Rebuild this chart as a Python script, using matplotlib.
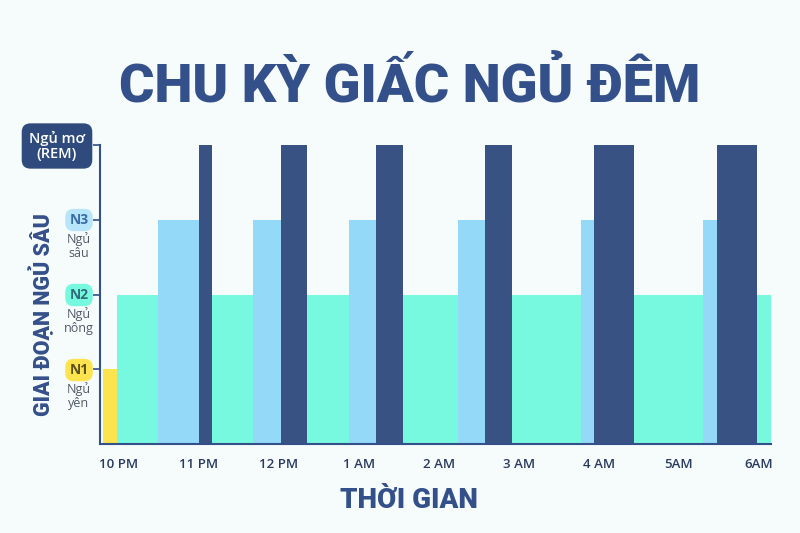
import matplotlib.pyplot as plt
import numpy as np

# Data: sleep stage segments, time in hours after 10 PM
seg_start = [-0.2, -0.025, 0.49, 1.0, 1.16, 1.68, 2.03, 2.35, 2.88, 3.21,
             3.55, 4.24, 4.58, 4.91, 5.78, 5.94, 6.44, 7.30, 7.48, 7.98]
seg_last_end = 8.15
stages = ["N1", "N2", "N3", "REM", "N2", "N3", "REM", "N2", "N3", "REM",
          "N2", "N3", "REM", "N2", "N3", "REM", "N2", "N3", "REM", "N2"]
stage_level = {"N1": 1, "N2": 2, "N3": 3, "REM": 4}
stage_color = {"N1": "#fde34e", "N2": "#76f9de", "N3": "#94d9f7", "REM": "#375283"}
time_labels = ["10 PM", "11 PM", "12 PM", "1 AM", "2 AM", "3 AM", "4 AM", "5AM", "6AM"]
time_pos = [0, 1, 2, 3, 4, 5, 6, 7, 8]

navy = "#34508a"
bg = "#f6fbfb"

fig = plt.figure(figsize=(8, 5.33), dpi=100, facecolor=bg)
W, H = 800, 533

def fx(px):
    return px / W

def fy(py):
    return 1 - py / H

ax = fig.add_axes([fx(100), fy(444), fx(771) - fx(100), fy(145) - fy(444)])
ax.set_facecolor(bg)

ends = seg_start[1:] + [seg_last_end]
widths = np.array(ends) - np.array(seg_start)
heights = [stage_level[s] for s in stages]
colors = [stage_color[s] for s in stages]
ax.bar(seg_start, heights, width=widths, align="edge", color=colors, linewidth=0)

ax.set_xlim(-0.2375, seg_last_end)
ax.set_ylim(0, 4)
for sp in ["top", "right"]:
    ax.spines[sp].set_visible(False)
for sp in ["left", "bottom"]:
    ax.spines[sp].set_color(navy)
    ax.spines[sp].set_linewidth(1.5)
    ax.spines[sp].set_zorder(5)

ax.set_xticks(time_pos)
ax.set_xticklabels(time_labels, fontsize=9.5, color="#2b3a60", family="Open Sans",
                   fontweight="semibold")
ax.tick_params(axis="x", length=0, pad=10)
ax.set_yticks([1, 2, 3, 4])
ax.set_yticklabels([])
ax.tick_params(axis="y", length=5, width=1.2, color=navy)

# y badges
badges = [("N1", "#fde34e", "#5a5020", 370, "Ngủ\nyên"),
          ("N2", "#76f9de", "#2f6d7a", 295, "Ngủ\nnông"),
          ("N3", "#b7e6fa", "#3b6ea8", 220, "Ngủ\nsâu")]
for lab, col, tcol, py, sub in badges:
    fig.text(fx(79), fy(py), lab, ha="center", va="center", fontsize=10,
             color=tcol, family="Open Sans", fontweight="bold",
             bbox=dict(boxstyle="round,pad=0.3,rounding_size=0.6", fc=col, ec="none"))
    fig.text(fx(79), fy(py + 26), sub, ha="center", va="center", fontsize=9,
             color="#505a68", family="Open Sans", linespacing=1.05)

fig.text(fx(57), fy(146), "Ngủ mơ\n(REM)", ha="center", va="center", fontsize=10.5,
         color="white", family="Open Sans", fontweight="semibold", linespacing=1.15,
         bbox=dict(boxstyle="round,pad=0.5,rounding_size=0.6", fc="#2f4a7c", ec="none"))

fig.text(fx(410), fy(86), "CHU KỲ GIẤC NGỦ ĐÊM", ha="center", va="center",
         fontsize=39, fontweight="heavy", color=navy, family="Roboto")
fig.text(fx(409), fy(500), "THỜI GIAN", ha="center", va="center",
         fontsize=20, fontweight="heavy", color=navy, family="Roboto")
fig.text(fx(42), fy(315), "GIAI ĐOẠN NGỦ SÂU", ha="center", va="center", rotation=90,
         fontsize=15.5, fontweight="heavy", color=navy, family="Roboto")

fig.savefig("out.png", dpi=100, facecolor=bg)
